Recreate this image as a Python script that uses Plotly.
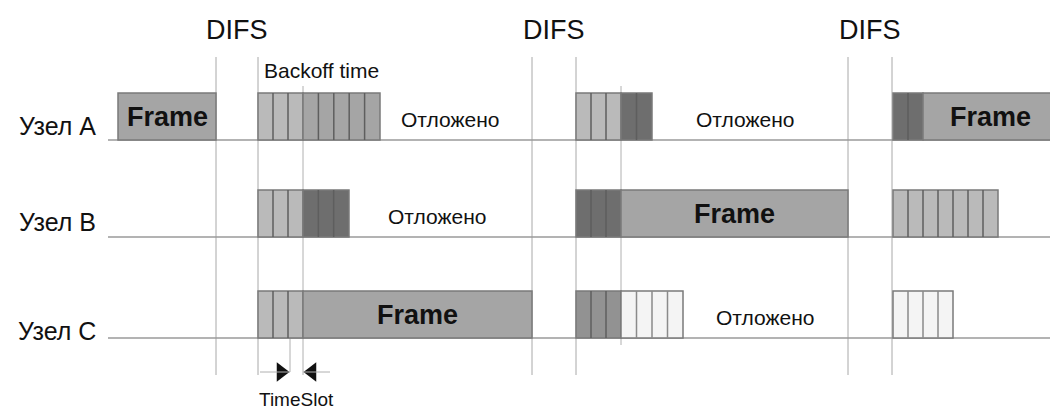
import plotly.graph_objects as go

# ---------------- data ----------------
nodes = ["Узел A", "Узел B", "Узел C"]
# segment data per node: start time, end time, kind, number of slots (0 = frame)
seg_node  = [0, 0, 0, 0, 0, 0, 0,
             1, 1, 1, 1, 1,
             2, 2, 2, 2, 2]
seg_start = [118, 258, 303, 576, 621, 893, 923,
             258, 303, 576, 621, 893,
             258, 303, 576, 621, 893]
seg_end   = [216, 303, 380, 621, 652, 923, 1062,
             303, 349, 621, 848, 998,
             303, 532, 621, 683, 953]
seg_kind  = ["frame", "light", "mid", "light", "dark", "dark", "frame",
             "light", "dark", "dark", "frame", "light",
             "light", "frame", "dim", "pale", "pale"]
seg_slots = [0, 3, 5, 3, 2, 2, 0,
             3, 3, 3, 0, 7,
             3, 0, 3, 4, 4]

difs_start = [216, 532, 848]
difs_end   = [258, 576, 892]
slot_marks = [303, 621]          # end of common backoff part
timeslot_from, timeslot_to = 290, 303

deferred_node = [0, 0, 1, 2]
deferred_time = [450, 745, 437, 765]

# ---------------- layout constants ----------------
W, H = 1058, 412
OFF = 8                          # page body margin
row_y = [140, 237, 338]          # baseline of each node row
label_y = [126, 222, 331]
box_h = 47
font = "Liberation Sans, Arial, sans-serif"
fills = {"frame": "#a5a5a5", "light": "#bababa", "mid": "#a5a5a5",
         "dim": "#929292", "dark": "#6e6e6e", "pale": "#f4f4f4"}
edge = "#7a7a7a"
ink = "#111111"

fig = go.Figure()
shapes = []
annotations = []

# vertical DIFS lines
for a, b in zip(difs_start, difs_end):
    for x in (a, b):
        shapes.append(dict(type="line", x0=x, x1=x, y0=57, y1=375,
                           line=dict(color="#a8a8a8", width=1)))
for i, x in enumerate(slot_marks):
    shapes.append(dict(type="line", x0=x, x1=x, y0=86, y1=375 if i == 0 else 345,
                       line=dict(color="#b0b0b0", width=1)))
shapes.append(dict(type="line", x0=timeslot_from, x1=timeslot_from, y0=338, y1=372,
                   line=dict(color="#b0b0b0", width=1)))

# baselines
for y in row_y:
    shapes.append(dict(type="line", x0=108, x1=W + 5, y0=y, y1=y,
                       line=dict(color="#9a9a9a", width=1.5)))

# segments
for n, s, e, k, ns in zip(seg_node, seg_start, seg_end, seg_kind, seg_slots):
    yb = row_y[n]
    yt = yb - box_h
    shapes.append(dict(type="rect", x0=s, x1=e, y0=yt, y1=yb,
                       fillcolor=fills[k], line=dict(color=edge, width=1.5)))
    if ns > 0:
        w = (e - s) / ns
        for j in range(1, ns):
            xx = s + j * w
            shapes.append(dict(type="line", x0=xx, x1=xx, y0=yt, y1=yb,
                               line=dict(color="#5e5e5e" if k != "pale" else "#8a8a8a", width=1.5)))
    else:
        xm = (s + min(e, W)) / 2
        annotations.append(dict(x=xm, y=yb - box_h / 2, text="<b>Frame</b>",
                                showarrow=False, font=dict(family=font, size=27, color=ink),
                                xanchor="center", yanchor="middle"))

# deferred labels
for n, t in zip(deferred_node, deferred_time):
    annotations.append(dict(x=t, y=row_y[n] - 21, text="Отложено", showarrow=False,
                            font=dict(family=font, size=21, color=ink),
                            xanchor="center", yanchor="middle"))

# node labels
for n, name in enumerate(nodes):
    annotations.append(dict(x=57, y=label_y[n], text=name, showarrow=False,
                            font=dict(family=font, size=25, color=ink),
                            xanchor="center", yanchor="middle"))

# DIFS labels
for a, b in zip(difs_start, difs_end):
    annotations.append(dict(x=(a + b) / 2, y=30, text="DIFS", showarrow=False,
                            font=dict(family=font, size=27, color=ink),
                            xanchor="center", yanchor="middle"))

annotations.append(dict(x=262, y=70, text="Backoff time", showarrow=False,
                        font=dict(family=font, size=21, color=ink),
                        xanchor="left", yanchor="middle"))
annotations.append(dict(x=(timeslot_from + timeslot_to) / 2, y=399, text="TimeSlot", showarrow=False,
                        font=dict(family=font, size=19, color=ink),
                        xanchor="center", yanchor="middle"))

# TimeSlot arrows
shapes.append(dict(type="line", x0=260, x1=timeslot_from, y0=372, y1=372,
                   line=dict(color="#b0b0b0", width=1)))
shapes.append(dict(type="line", x0=timeslot_to, x1=timeslot_to + 27, y0=372, y1=372,
                   line=dict(color="#b0b0b0", width=1)))
fig.add_trace(go.Scatter(x=[timeslot_from - 9, timeslot_to + 9], y=[372, 372], mode="markers",
                         marker=dict(symbol=["triangle-right", "triangle-left"], size=17,
                                     color=ink),
                         hoverinfo="skip", showlegend=False))

fig.update_layout(width=W - OFF, height=H - OFF, margin=dict(l=0, r=0, t=0, b=0),
                  paper_bgcolor="white", plot_bgcolor="white",
                  shapes=shapes, annotations=annotations, showlegend=False,
                  xaxis=dict(range=[OFF, W], visible=False, fixedrange=True),
                  yaxis=dict(range=[H, OFF], visible=False, fixedrange=True))
fig.write_html("out.html")
